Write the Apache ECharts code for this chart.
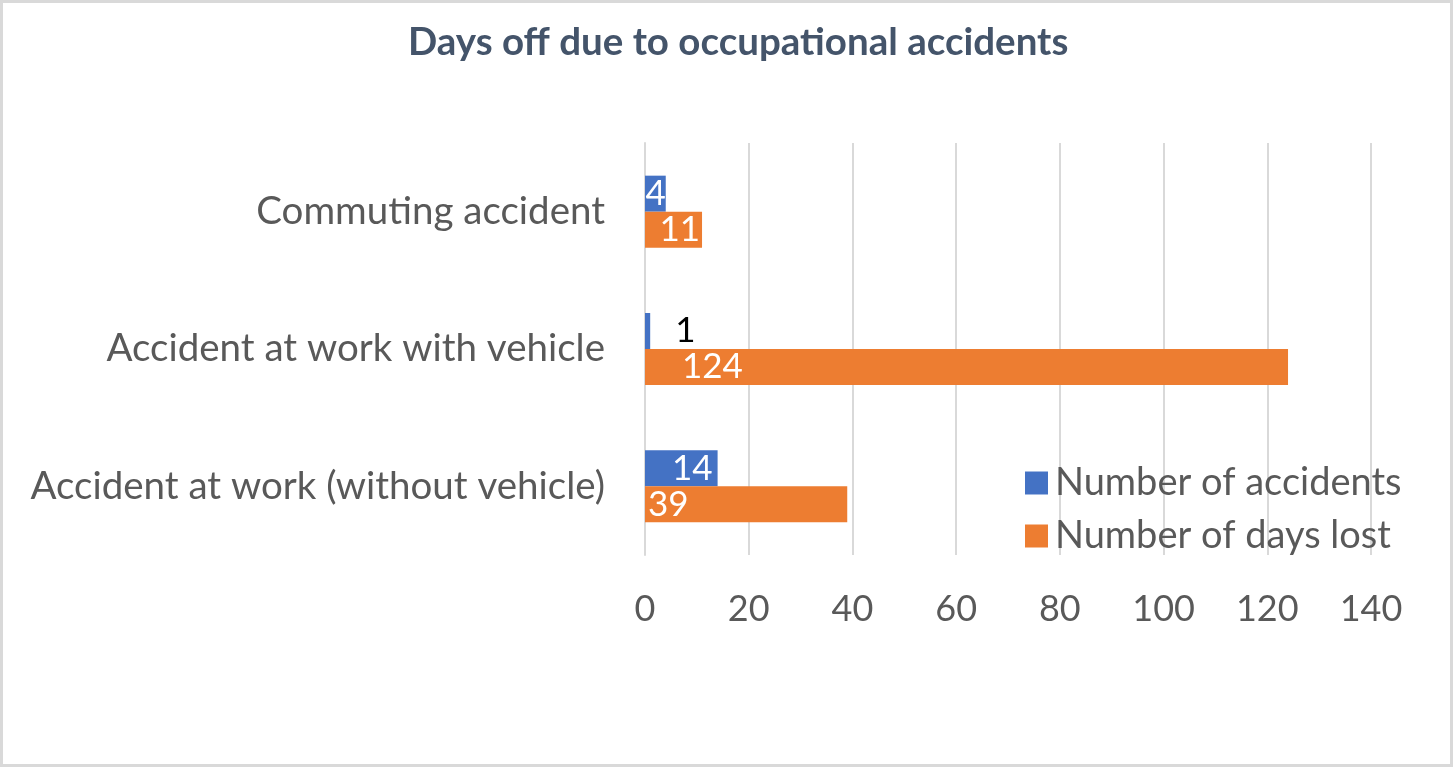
<!DOCTYPE html>
<html>
<head>
<meta charset="utf-8">
<script src="https://cdn.jsdelivr.net/npm/echarts@6/dist/echarts.min.js"></script>
<style>
html,body{margin:0;padding:0;background:#fff;}
#chart{width:1454px;height:768px;}
</style>
</head>
<body>
<div id="chart"></div>
<script>
const categories = ['Commuting accident', 'Accident at work with vehicle', 'Accident at work (without vehicle)'];
const accidents = [4, 1, 14];
const daysLost = [11, 124, 39];
const xMin = 0, xMax = 140, xStep = 20;

const FONT = 'Lato';
const accLabels = [
  {position: 'insideRight', distance: 0},
  {position: 'right', distance: 25, color: '#000000'},
  {position: 'insideRight', distance: 5}
];
const daysLabels = [
  {position: 'insideRight', distance: 2},
  {position: 'insideLeft', distance: 37},
  {position: 'insideLeft', distance: 3}
];

const chart = echarts.init(document.getElementById('chart'));
chart.setOption({
  backgroundColor: '#ffffff',
  animation: false,
  title: {
    text: 'Days off due to occupational accidents',
    left: 403, top: 18,
    textStyle: {fontFamily: FONT, fontWeight: 'bold', fontSize: 38.5, color: '#44546A'}
  },
  graphic: [{
    type: 'rect', shape: {x: 1.5, y: 1.5, width: 1450, height: 764},
    style: {fill: 'none', stroke: '#D9D9D9', lineWidth: 3}, silent: true
  }],
  legend: {
    orient: 'vertical', left: 1020, top: 459,
    itemWidth: 23, itemHeight: 23, itemGap: 15,
    icon: 'rect',
    data: ['Number of accidents', 'Number of days lost'],
    textStyle: {fontFamily: FONT, fontSize: 38, lineHeight: 28, color: '#595959', padding: [0, 0, 0, 2]}
  },
  grid: {left: 645, right: 83, top: 143, bottom: 213, containLabel: false},
  xAxis: {
    type: 'value', min: xMin, max: xMax, interval: xStep,
    axisLine: {show: false}, axisTick: {show: false},
    splitLine: {show: true, lineStyle: {color: '#D9D9D9', width: 2}},
    axisLabel: {fontFamily: FONT, fontSize: 36, color: '#595959', margin: 36}
  },
  yAxis: {
    type: 'category', data: categories, inverse: true,
    axisLine: {show: true, lineStyle: {color: '#D9D9D9', width: 2}},
    axisTick: {show: false},
    axisLabel: {fontFamily: FONT, fontSize: 38.5, color: '#595959', margin: 40}
  },
  series: [
    {
      name: 'Number of accidents', type: 'bar', barWidth: 36, barGap: '0%',
      itemStyle: {color: '#4472C4'},
      label: {show: true, fontFamily: FONT, fontSize: 35, color: '#ffffff'},
      data: accidents.map((v, i) => ({value: v, label: accLabels[i]}))
    },
    {
      name: 'Number of days lost', type: 'bar', barWidth: 36, barGap: '0%',
      itemStyle: {color: '#ED7D31'},
      label: {show: true, fontFamily: FONT, fontSize: 35, color: '#ffffff'},
      data: daysLost.map((v, i) => ({value: v, label: daysLabels[i]}))
    }
  ]
});
</script>
</body>
</html>
